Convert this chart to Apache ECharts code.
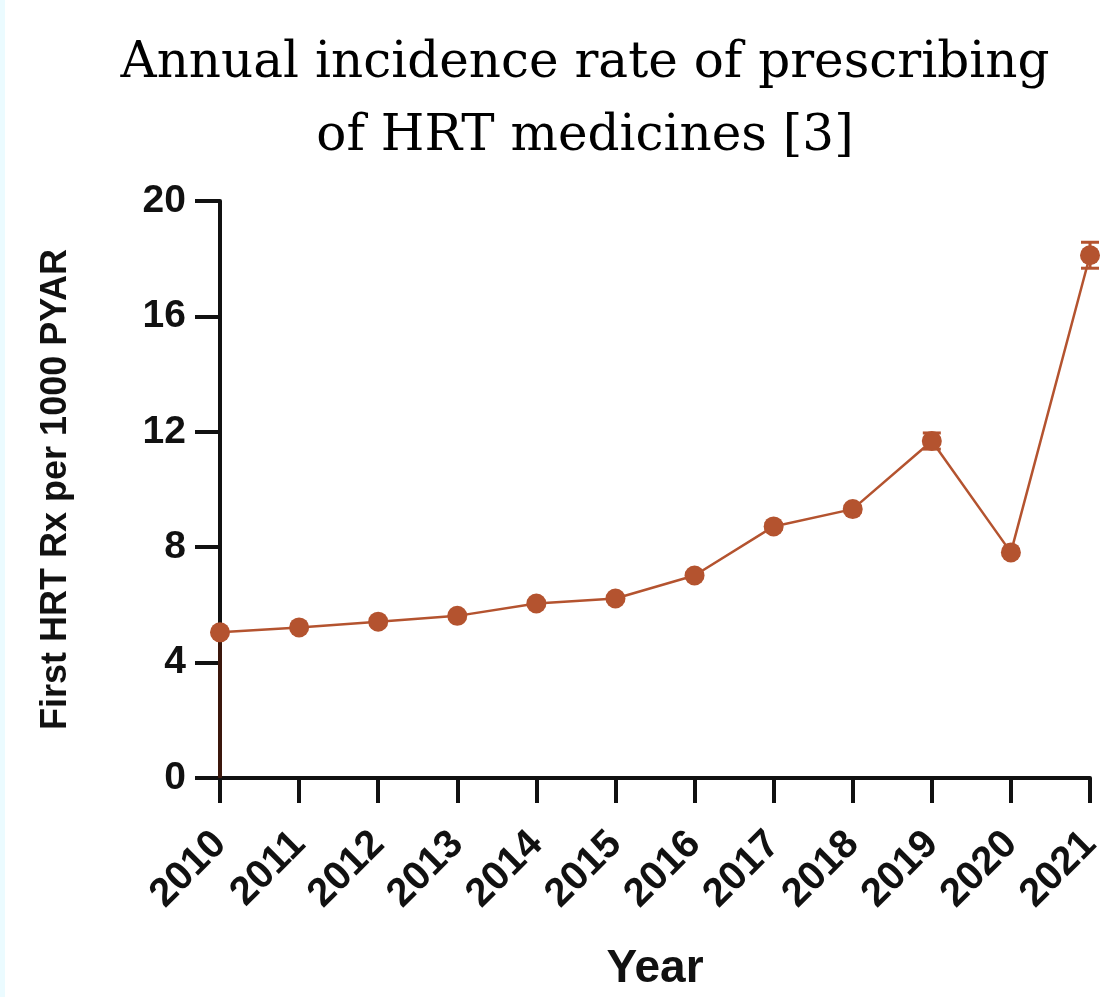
<!DOCTYPE html>
<html>
<head>
<meta charset="utf-8">
<script src="https://cdn.jsdelivr.net/npm/echarts@6/dist/echarts.min.js"></script>
<style>
  html, body { margin: 0; padding: 0; background: #ffffff; }
  #chart { width: 1108px; height: 997px; }
</style>
</head>
<body>
<div id="chart"></div>
<script>
// Years on the x axis
const years = ['2010', '2011', '2012', '2013', '2014', '2015', '2016', '2017', '2018', '2019', '2020', '2021'];
// First HRT prescriptions per 1000 person-years at risk
const rates = [5.05, 5.22, 5.42, 5.62, 6.05, 6.22, 7.02, 8.72, 9.32, 11.68, 7.82, 18.12];
// Half-width of the confidence interval around each rate
const errors = [0.08, 0.08, 0.08, 0.08, 0.08, 0.08, 0.08, 0.1, 0.1, 0.28, 0.1, 0.45];
// Y tick values
const yTicks = [0, 4, 8, 12, 16, 20];

const rust = '#b4532f';
const labelFont = '"Liberation Sans", Arial, sans-serif';

const chart = echarts.init(document.getElementById('chart'));

chart.setOption({
  backgroundColor: '#ffffff',
  animation: false,
  title: {
    text: 'Annual incidence rate of prescribing\nof HRT medicines [3]',
    left: 580,
    top: 23,
    textAlign: 'center',
    textStyle: {
      fontFamily: '"DejaVu Serif", serif',
      fontWeight: 'normal',
      fontSize: 50,
      lineHeight: 73,
      color: '#000000',
      align: 'center'
    }
  },
  graphic: [{
    type: 'rect',
    left: 0, top: 0,
    shape: { width: 5, height: 997 },
    style: { fill: '#ebfbff' },
    silent: true
  }],
  grid: { left: 220, right: 18, top: 201, bottom: 212, containLabel: false },
  xAxis: {
    type: 'category',
    data: years,
    boundaryGap: false,
    name: 'Year',
    nameLocation: 'middle',
    nameGap: 168,
    nameTextStyle: { fontFamily: labelFont, fontWeight: 'bold', fontSize: 46, color: '#111' },
    axisLine: { lineStyle: { color: '#111', width: 4 } },
    axisTick: { alignWithLabel: true, length: 25, lineStyle: { color: '#111', width: 4 } },
    axisLabel: {
      rotate: 45, margin: 60, interval: 0,
      fontFamily: labelFont, fontWeight: 'bold', fontSize: 40, color: '#111'
    },
    splitLine: { show: false }
  },
  yAxis: {
    type: 'value',
    min: yTicks[0],
    max: yTicks[yTicks.length - 1],
    interval: 4,
    name: 'First HRT Rx per 1000 PYAR',
    nameLocation: 'middle',
    nameGap: 146,
    nameTextStyle: { fontFamily: labelFont, fontWeight: 'bold', fontSize: 36, color: '#111' },
    axisLine: { show: true, lineStyle: { color: '#111', width: 4 } },
    axisTick: { show: true, length: 25, lineStyle: { color: '#111', width: 4 } },
    axisLabel: { margin: 34, fontFamily: labelFont, fontWeight: 'bold', fontSize: 39, color: '#111' },
    splitLine: { show: false }
  },
  series: [
    {
      // stem from the baseline to the first rate
      type: 'custom',
      z: 3,
      silent: true,
      renderItem: function (params, api) {
        if (params.dataIndex !== 0) return null;
        const top = api.coord([api.value(0), api.value(1)]);
        const base = api.coord([api.value(0), 0]);
        return {
          type: 'line',
          shape: { x1: top[0], y1: top[1], x2: base[0], y2: base[1] },
          style: { stroke: '#3b170c', lineWidth: 4 }
        };
      },
      data: rates.map((v, i) => [i, v])
    },
    {
      // confidence interval whiskers
      type: 'custom',
      z: 4,
      silent: true,
      renderItem: function (params, api) {
        const i = api.value(0);
        const lo = api.coord([i, api.value(1)]);
        const hi = api.coord([i, api.value(2)]);
        const w = 9;
        const st = { stroke: rust, lineWidth: 3 };
        return {
          type: 'group',
          children: [
            { type: 'line', shape: { x1: lo[0], y1: lo[1], x2: hi[0], y2: hi[1] }, style: st },
            { type: 'line', shape: { x1: hi[0] - w, y1: hi[1], x2: hi[0] + w, y2: hi[1] }, style: st },
            { type: 'line', shape: { x1: lo[0] - w, y1: lo[1], x2: lo[0] + w, y2: lo[1] }, style: st }
          ]
        };
      },
      data: rates.map((v, i) => [i, v - errors[i], v + errors[i]])
    },
    {
      type: 'line',
      z: 5,
      data: rates,
      symbol: 'circle',
      symbolSize: 20,
      lineStyle: { color: rust, width: 2.5 },
      itemStyle: { color: rust },
      clip: false
    }
  ]
});
</script>
</body>
</html>
